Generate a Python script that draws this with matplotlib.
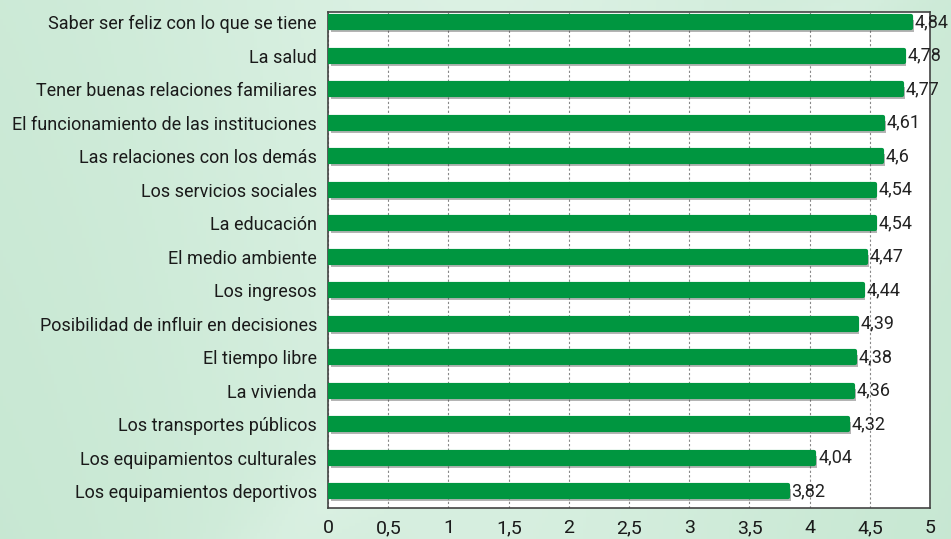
import numpy as np
import matplotlib
matplotlib.use('Agg')
import matplotlib.pyplot as plt
import matplotlib.patheffects as pe

categories = ['Saber ser feliz con lo que se tiene', 'La salud',
              'Tener buenas relaciones familiares',
              'El funcionamiento de las instituciones',
              'Las relaciones con los demás', 'Los servicios sociales',
              'La educación', 'El medio ambiente', 'Los ingresos',
              'Posibilidad de influir en decisiones', 'El tiempo libre',
              'La vivienda', 'Los transportes públicos',
              'Los equipamientos culturales', 'Los equipamientos deportivos']
values = [4.84, 4.78, 4.77, 4.61, 4.6, 4.54, 4.54, 4.47, 4.44, 4.39,
          4.38, 4.36, 4.32, 4.04, 3.82]
xticks = [0, 0.5, 1, 1.5, 2, 2.5, 3, 3.5, 4, 4.5, 5]

plt.rcParams['font.family'] = ['Roboto', 'DejaVu Sans']

fig = plt.figure(figsize=(9.51, 5.39), dpi=100)

# background gradient
bg = fig.add_axes([0, 0, 1, 1], zorder=-10)
gx, gy = np.meshgrid(np.linspace(0, 1, 300), np.linspace(0, 1, 170))
base = 0.5 + 0.35 * np.exp(-((gx - 0.5) ** 2) / 0.12) + 0.1 * gy
band = 0.12 * np.exp(-((gx - 0.6 * gy - 0.3) ** 2) / 0.004)
t = np.clip(base + band, 0, 1)
c0 = np.array([0.68, 0.86, 0.74])
c1 = np.array([0.87, 0.95, 0.90])
img = c0[None, None, :] * (1 - t[..., None]) + c1[None, None, :] * t[..., None]
bg.imshow(img, aspect='auto', extent=[0, 1, 0, 1], origin='lower')
bg.axis('off')

ax = fig.add_axes([0.345, 0.0575, 0.633, 0.92])
ax.set_facecolor('white')
y = np.arange(len(categories))
bars = ax.barh(y, values, height=0.36, color='#009640', edgecolor='#009640',
               linewidth=3, joinstyle='round', zorder=3)
for b in bars:
    b.set_path_effects([pe.SimplePatchShadow(offset=(2, -3), shadow_rgbFace='#444444', alpha=0.4),
                        pe.Normal()])

for yi, v in zip(y, values):
    ax.text(v + 0.03, yi, ('%g' % v).replace('.', ','), va='center', ha='left',
            fontsize=13, color='#222222', zorder=5, clip_on=False)

ax.set_xlim(0, 5)
ax.set_ylim(14.5, -0.3)
ax.set_yticks(y)
ax.set_yticklabels(categories, fontsize=13, color='#1a1a1a')
ax.set_xticks(xticks)
ax.set_xticklabels([('%g' % t_).replace('.', ',') for t_ in xticks], fontsize=14, color='#1a1a1a')
ax.tick_params(length=0)
ax.tick_params(axis='y', pad=8)
ax.tick_params(axis='x', pad=8)
ax.grid(axis='x', linestyle=(0, (2, 2)), color='#888888', linewidth=0.8, zorder=1)
for s in ax.spines.values():
    s.set_color('#444444')
    s.set_linewidth(1.2)

fig.savefig('out.png', dpi=100)
